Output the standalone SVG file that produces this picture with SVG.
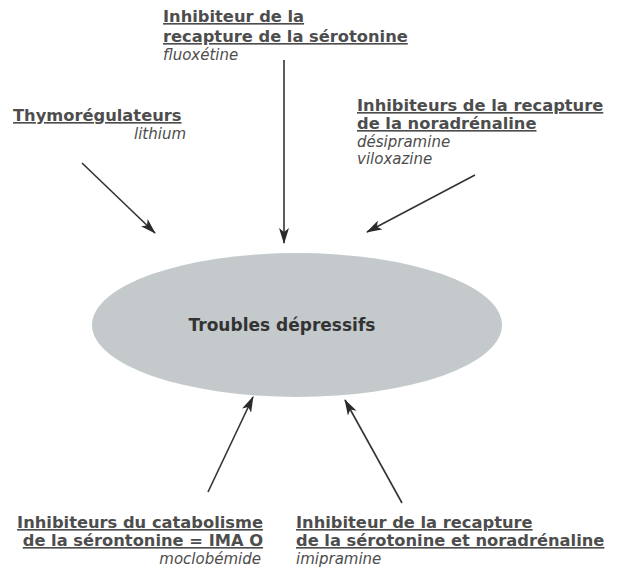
<svg xmlns="http://www.w3.org/2000/svg" width="617" height="570" viewBox="0 0 617 570">
<style>
.h{font-family:"DejaVu Sans","Verdana",sans-serif;font-weight:bold;font-size:16.3px;fill:#4d4d4d;text-decoration:underline;}
.it{font-family:"DejaVu Sans",sans-serif;font-style:italic;font-size:15px;fill:#4d4d4d;}
.c{stroke:#333;stroke-width:1.6;fill:none;marker-end:url(#ah);}
</style>
<defs>
<marker id="ah" viewBox="0 0 16 10" refX="15" refY="5" markerWidth="16" markerHeight="10" markerUnits="userSpaceOnUse" orient="auto">
<path d="M0,0 L16,5 L0,10 L4,5 z" fill="#2a2a2a"/>
</marker>
</defs>
<rect width="617" height="570" fill="#ffffff"/>
<g id="center">
<ellipse cx="297" cy="325" rx="205" ry="72" fill="#c4c9cc"/>
<text x="282" y="331" text-anchor="middle" style="font-family:'DejaVu Sans',sans-serif;font-weight:bold;font-size:17px;fill:#333;">Troubles dépressifs</text>
</g>
<g id="ssri">
<text class="h" x="163" y="22">Inhibiteur de la</text>
<text class="h" x="163" y="42">recapture de la sérotonine</text>
<text class="it" x="163" y="60">fluoxétine</text>
</g>
<g id="thymo">
<text class="h" x="13" y="121">Thymorégulateurs</text>
<text class="it" x="186" y="139" text-anchor="end">lithium</text>
</g>
<g id="nari">
<text class="h" x="357" y="111">Inhibiteurs de la recapture</text>
<text class="h" x="357" y="129">de la noradrénaline</text>
<text class="it" x="357" y="147">désipramine</text>
<text class="it" x="357" y="164">viloxazine</text>
</g>
<g id="imao">
<text class="h" x="263" y="528" text-anchor="end">Inhibiteurs du catabolisme</text>
<text class="h" x="263" y="546" text-anchor="end">de la sérontonine = IMA O</text>
<text class="it" x="261" y="564" text-anchor="end">moclobémide</text>
</g>
<g id="snri">
<text class="h" x="296" y="528">Inhibiteur de la recapture</text>
<text class="h" x="296" y="546">de la sérotonine et noradrénaline</text>
<text class="it" x="296" y="564">imipramine</text>
</g>
<g id="connectors">
<line class="c" x1="284" y1="60" x2="284" y2="243"/>
<line class="c" x1="82" y1="163" x2="155" y2="233"/>
<line class="c" x1="475" y1="175" x2="367" y2="232"/>
<line class="c" x1="208" y1="492" x2="253" y2="397"/>
<line class="c" x1="402" y1="503" x2="345" y2="400"/>
</g>
</svg>
